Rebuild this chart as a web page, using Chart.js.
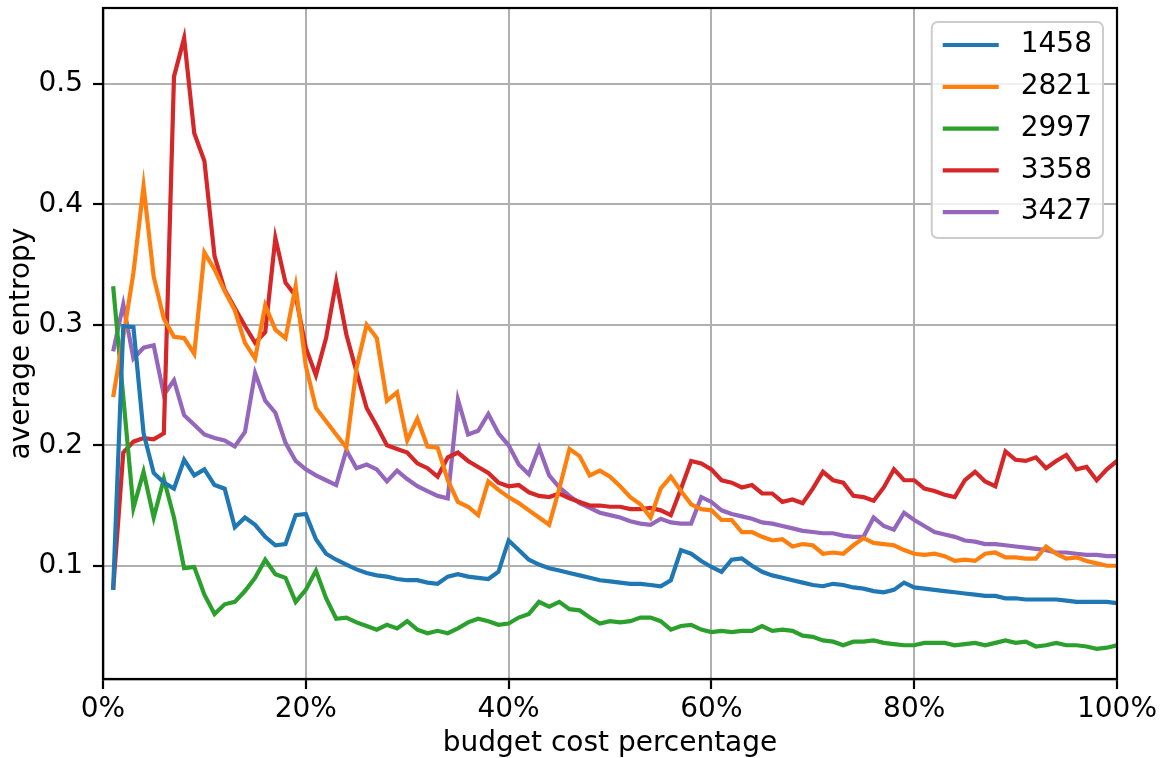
<!DOCTYPE html>
<html>
<head>
<meta charset="utf-8">
<title>average entropy</title>
<script src="https://cdn.jsdelivr.net/npm/chart.js@4.4.1/dist/chart.umd.min.js"></script>
<style>
  html, body { margin: 0; padding: 0; background: #fff; }
  #wrap { width: 1164px; height: 758px; }
</style>
</head>
<body>
<div id="wrap"><canvas id="entropyChart" width="1164" height="758"></canvas></div>
<script>
// budget cost percentage (x)
const budgetPct = [
  1, 2, 3, 4, 5, 6, 7, 8, 9, 10, 11, 12, 13, 14, 15, 16, 17, 18, 19, 20,
  21, 22, 23, 24, 25, 26, 27, 28, 29, 30, 31, 32, 33, 34, 35, 36, 37, 38, 39, 40,
  41, 42, 43, 44, 45, 46, 47, 48, 49, 50, 51, 52, 53, 54, 55, 56, 57, 58, 59, 60,
  61, 62, 63, 64, 65, 66, 67, 68, 69, 70, 71, 72, 73, 74, 75, 76, 77, 78, 79, 80,
  81, 82, 83, 84, 85, 86, 87, 88, 89, 90, 91, 92, 93, 94, 95, 96, 97, 98, 99, 100
];

const seriesNames = ["1458", "2821", "2997", "3358", "3427"];
const seriesColors = ["#1f77b4", "#ff7f0e", "#2ca02c", "#d62728", "#9467bd"];

const entropy1458 = [
  0.080, 0.299, 0.298, 0.210, 0.177, 0.169, 0.164, 0.188, 0.175, 0.180,
  0.167, 0.164, 0.132, 0.140, 0.134, 0.124, 0.117, 0.118, 0.142, 0.143,
  0.122, 0.110, 0.105, 0.101, 0.097, 0.094, 0.092, 0.091, 0.089, 0.088,
  0.088, 0.086, 0.085, 0.091, 0.093, 0.091, 0.090, 0.089, 0.095, 0.121,
  0.113, 0.105, 0.101, 0.098, 0.096, 0.094, 0.092, 0.090, 0.088, 0.087,
  0.086, 0.085, 0.085, 0.084, 0.083, 0.088, 0.113, 0.110, 0.104, 0.099,
  0.095, 0.105, 0.106, 0.100, 0.095, 0.092, 0.090, 0.088, 0.086, 0.084,
  0.083, 0.085, 0.084, 0.082, 0.081, 0.079, 0.078, 0.080, 0.086, 0.082,
  0.081, 0.080, 0.079, 0.078, 0.077, 0.076, 0.075, 0.075, 0.073, 0.073,
  0.072, 0.072, 0.072, 0.072, 0.071, 0.070, 0.070, 0.070, 0.070, 0.069
];

const entropy2821 = [
  0.240, 0.290, 0.343, 0.415, 0.340, 0.305, 0.290, 0.289, 0.276, 0.360,
  0.346, 0.328, 0.312, 0.285, 0.272, 0.316, 0.296, 0.289, 0.332, 0.266,
  0.231, 0.220, 0.209, 0.198, 0.264, 0.300, 0.289, 0.237, 0.244, 0.204,
  0.222, 0.199, 0.198, 0.171, 0.153, 0.149, 0.142, 0.170, 0.163, 0.157,
  0.152, 0.146, 0.140, 0.134, 0.164, 0.197, 0.191, 0.175, 0.179, 0.174,
  0.166, 0.157, 0.151, 0.140, 0.164, 0.174, 0.162, 0.151, 0.147, 0.146,
  0.138, 0.138, 0.128, 0.128, 0.124, 0.121, 0.122, 0.116, 0.118, 0.117,
  0.110, 0.111, 0.110, 0.117, 0.123, 0.119, 0.118, 0.117, 0.113, 0.110,
  0.109, 0.110, 0.108, 0.104, 0.105, 0.104, 0.110, 0.111, 0.107, 0.107,
  0.106, 0.106, 0.116, 0.110, 0.106, 0.107, 0.104, 0.102, 0.100, 0.100
];

const entropy2997 = [
  0.332, 0.240, 0.148, 0.178, 0.140, 0.172, 0.140, 0.098, 0.099, 0.076,
  0.060, 0.068, 0.070, 0.079, 0.090, 0.105, 0.093, 0.090, 0.070, 0.080,
  0.096, 0.073, 0.056, 0.057, 0.053, 0.050, 0.047, 0.051, 0.048, 0.054,
  0.047, 0.044, 0.046, 0.044, 0.048, 0.053, 0.056, 0.054, 0.051, 0.052,
  0.057, 0.060, 0.070, 0.066, 0.070, 0.064, 0.063, 0.057, 0.052, 0.054,
  0.053, 0.054, 0.057, 0.057, 0.054, 0.047, 0.050, 0.051, 0.047, 0.045,
  0.046, 0.045, 0.046, 0.046, 0.050, 0.046, 0.047, 0.046, 0.042, 0.041,
  0.038, 0.037, 0.034, 0.037, 0.037, 0.038, 0.036, 0.035, 0.034, 0.034,
  0.036, 0.036, 0.036, 0.034, 0.035, 0.036, 0.034, 0.036, 0.038, 0.036,
  0.037, 0.033, 0.034, 0.036, 0.034, 0.034, 0.033, 0.031, 0.032, 0.034
];

const entropy3358 = [
  0.080, 0.194, 0.203, 0.206, 0.205, 0.210, 0.506, 0.538, 0.459, 0.436,
  0.357, 0.329, 0.314, 0.299, 0.285, 0.294, 0.372, 0.335, 0.324, 0.281,
  0.258, 0.289, 0.336, 0.292, 0.261, 0.231, 0.216, 0.200, 0.197, 0.194,
  0.185, 0.181, 0.174, 0.190, 0.194, 0.187, 0.182, 0.177, 0.169, 0.166,
  0.167, 0.161, 0.158, 0.157, 0.160, 0.156, 0.153, 0.150, 0.150, 0.149,
  0.149, 0.147, 0.147, 0.148, 0.146, 0.142, 0.164, 0.187, 0.185, 0.180,
  0.171, 0.169, 0.165, 0.167, 0.160, 0.160, 0.153, 0.155, 0.152, 0.164,
  0.178, 0.171, 0.169, 0.158, 0.157, 0.154, 0.165, 0.180, 0.171, 0.171,
  0.164, 0.162, 0.159, 0.157, 0.171, 0.178, 0.170, 0.166, 0.195, 0.188,
  0.187, 0.190, 0.181, 0.187, 0.192, 0.180, 0.182, 0.171, 0.180, 0.187
];

const entropy3427 = [
  0.278, 0.317, 0.272, 0.281, 0.283, 0.242, 0.254, 0.225, 0.217, 0.209,
  0.206, 0.204, 0.199, 0.211, 0.260, 0.237, 0.227, 0.202, 0.187, 0.180,
  0.175, 0.171, 0.167, 0.196, 0.181, 0.184, 0.180, 0.170, 0.179, 0.172,
  0.166, 0.162, 0.158, 0.156, 0.238, 0.209, 0.212, 0.226, 0.210, 0.200,
  0.184, 0.176, 0.198, 0.175, 0.165, 0.158, 0.152, 0.148, 0.144, 0.142,
  0.140, 0.137, 0.135, 0.134, 0.139, 0.136, 0.135, 0.135, 0.157, 0.153,
  0.146, 0.143, 0.141, 0.139, 0.136, 0.135, 0.133, 0.131, 0.129, 0.128,
  0.127, 0.127, 0.125, 0.124, 0.124, 0.140, 0.133, 0.130, 0.144, 0.138,
  0.133, 0.128, 0.126, 0.124, 0.121, 0.120, 0.118, 0.118, 0.117, 0.116,
  0.115, 0.114, 0.113, 0.111, 0.111, 0.110, 0.109, 0.109, 0.108, 0.108
];

const allSeries = [entropy1458, entropy2821, entropy2997, entropy3358, entropy3427];

// tick values
const xTicks = [0, 20, 40, 60, 80, 100];
const yTicks = [0.1, 0.2, 0.3, 0.4, 0.5];

const FONT = "'DejaVu Sans', sans-serif";
Chart.defaults.font.family = FONT;
Chart.defaults.color = "#000";

// legend box inside the plot, top right (matplotlib style)
const insideLegend = {
  id: "insideLegend",
  afterDatasetsDraw(chart) {
    const ctx = chart.ctx;
    const area = chart.chartArea;

    // full frame (top + right spines too)
    ctx.save();
    ctx.strokeStyle = "#000";
    ctx.lineWidth = 2.2;
    ctx.strokeRect(area.left, area.top, area.right - area.left, area.bottom - area.top);
    ctx.restore();
  },
  afterDraw(chart) {
    const ctx = chart.ctx;
    const area = chart.chartArea;
    const fs = 28;
    const pad = 11;
    const handle = 56;
    const gap = 22;
    const rowH = 41.8;

    ctx.save();
    ctx.font = fs + "px " + FONT;
    let textW = 0;
    seriesNames.forEach(n => { textW = Math.max(textW, ctx.measureText(n).width); });

    const w = pad + handle + gap + textW + pad;
    const h = 216;
    const x0 = area.right - 14 - w;
    const y0 = area.top + 14;

    ctx.beginPath();
    ctx.roundRect(x0, y0, w, h, 6);
    ctx.fillStyle = "rgba(255,255,255,0.8)";
    ctx.fill();
    ctx.strokeStyle = "#cccccc";
    ctx.lineWidth = 2;
    ctx.stroke();

    seriesNames.forEach((name, i) => {
      const cy = y0 + pad + 12 + i * rowH;
      ctx.beginPath();
      ctx.moveTo(x0 + pad, cy);
      ctx.lineTo(x0 + pad + handle, cy);
      ctx.strokeStyle = seriesColors[i];
      ctx.lineWidth = 4.2;
      ctx.stroke();

      ctx.fillStyle = "#000";
      ctx.textAlign = "left";
      ctx.textBaseline = "middle";
      ctx.fillText(name, x0 + pad + handle + gap, cy);
    });
    ctx.restore();
  }
};

const datasets = seriesNames.map((name, i) => ({
  label: name,
  data: budgetPct.map((x, j) => ({ x: x, y: allSeries[i][j] })),
  borderColor: seriesColors[i],
  backgroundColor: seriesColors[i],
  borderWidth: 4.2,
  pointRadius: 0,
  tension: 0,
  fill: false
}));

new Chart(document.getElementById("entropyChart"), {
  type: "line",
  data: { datasets },
  plugins: [insideLegend],
  options: {
    responsive: false,
    animation: false,
    layout: { padding: { left: 0, top: 8, right: 47, bottom: 0 } },
    plugins: {
      legend: { display: false },
      tooltip: { enabled: false }
    },
    scales: {
      x: {
        type: "linear",
        min: 0,
        max: 100,
        afterBuildTicks: axis => { axis.ticks = xTicks.map(v => ({ value: v })); },
        afterFit: axis => {
          axis.height = 79;
          axis.paddingLeft = 0;
          axis.paddingRight = 0;
        },
        ticks: {
          callback: v => v + "%",
          font: { size: 28 },
          color: "#000",
          padding: 4,
          maxRotation: 0
        },
        grid: {
          color: "#b0b0b0",
          lineWidth: 2,
          tickColor: "#000",
          tickLength: 10,
          tickWidth: 2.2
        },
        border: { color: "#000", width: 2.2 },
        title: {
          display: true,
          text: "budget cost percentage",
          font: { size: 28 },
          color: "#000",
          padding: { top: 0, bottom: -3 }
        }
      },
      y: {
        min: 0.006,
        max: 0.563,
        afterBuildTicks: axis => { axis.ticks = yTicks.map(v => ({ value: v })); },
        afterFit: axis => {
          axis.width = 103;
          axis.paddingTop = 0;
          axis.paddingBottom = 0;
        },
        ticks: {
          callback: v => v.toFixed(1),
          font: { size: 28 },
          color: "#000",
          padding: 10
        },
        grid: {
          color: "#b0b0b0",
          lineWidth: 2,
          tickColor: "#000",
          tickLength: 10,
          tickWidth: 2.2
        },
        border: { color: "#000", width: 2.2 },
        title: {
          display: true,
          text: "average entropy",
          font: { size: 28 },
          color: "#000",
          padding: { top: 5, bottom: 0 }
        }
      }
    }
  }
});
</script>
</body>
</html>
